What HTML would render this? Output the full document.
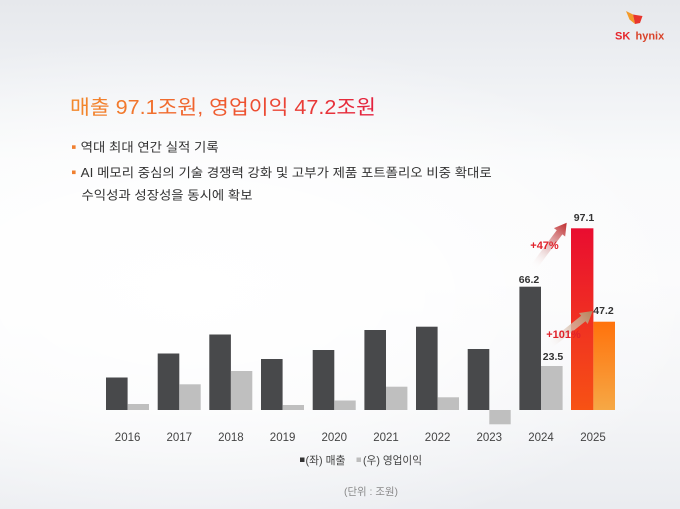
<!DOCTYPE html>
<html>
<head>
<meta charset="utf-8">
<style>
  html,body{margin:0;padding:0;}
  body{width:680px;height:509px;overflow:hidden;
    background:
      radial-gradient(ellipse 520px 260px at 28% 58%, rgba(255,255,255,1) 0%, rgba(255,255,255,0.7) 45%, rgba(255,255,255,0) 100%),
      linear-gradient(180deg,#e6e8ec 0%,#eff1f4 16%,#f9fafb 32%,#fbfbfc 55%,#f4f5f7 80%,#eaecf0 100%);}
  svg{display:block;}
  text{font-family:"Liberation Sans","Noto Sans CJK KR",sans-serif;}
</style>
</head>
<body>
<svg width="680" height="509" viewBox="0 0 680 509" xmlns="http://www.w3.org/2000/svg">
  <defs>
    <linearGradient id="tg" x1="70" y1="0" x2="376" y2="0" gradientUnits="userSpaceOnUse">
      <stop offset="0" stop-color="#f38a2c"/>
      <stop offset="0.5" stop-color="#ef5a2f"/>
      <stop offset="1" stop-color="#e4213f"/>
    </linearGradient>
    <linearGradient id="rev25" x1="0" y1="0" x2="0" y2="1">
      <stop offset="0" stop-color="#e90d30"/>
      <stop offset="1" stop-color="#f75214"/>
    </linearGradient>
    <linearGradient id="op25" x1="0" y1="0" x2="0" y2="1">
      <stop offset="0" stop-color="#ff720c"/>
      <stop offset="1" stop-color="#f6a845"/>
    </linearGradient>
    <linearGradient id="ar1" x1="533" y1="268" x2="566.7" y2="222.7" gradientUnits="userSpaceOnUse">
      <stop offset="0" stop-color="#ffffff" stop-opacity="0"/>
      <stop offset="0.35" stop-color="#e8cccc" stop-opacity="0.7"/>
      <stop offset="1" stop-color="#bf2a2c"/>
    </linearGradient>
    <linearGradient id="ar2" x1="548" y1="346.7" x2="592.7" y2="311" gradientUnits="userSpaceOnUse">
      <stop offset="0" stop-color="#ffffff" stop-opacity="0"/>
      <stop offset="0.35" stop-color="#e6d6cc" stop-opacity="0.7"/>
      <stop offset="1" stop-color="#b3845a"/>
    </linearGradient>
  </defs>

  <!-- Logo -->
  <polygon points="626,11 633,14.5 635,24 629.5,19.5" fill="#f39a2a"/>
  <polygon points="633,14.5 642.5,16 640,23 635,24" fill="#e8352d"/>
  <text x="615" y="39.5" font-size="11" font-weight="bold" fill="#e6262c">SK</text>
  <text x="635.5" y="39.5" font-size="11" font-weight="bold" fill="#d9432a">hynix</text>

  <!-- Title -->
  <text x="70" y="114" font-size="20" fill="url(#tg)" textLength="306" lengthAdjust="spacingAndGlyphs">매출 97.1조원, 영업이익 47.2조원</text>

  <!-- Bullets -->
  <rect x="72" y="145.3" width="3.6" height="3.6" fill="#f08030"/>
  <text x="80.7" y="151.6" font-size="12.5" fill="#333" textLength="138" lengthAdjust="spacingAndGlyphs">역대 최대 연간 실적 기록</text>
  <rect x="72" y="170.5" width="3.6" height="3.6" fill="#f08030"/>
  <text x="80.7" y="176.8" font-size="12.5" fill="#333" textLength="411" lengthAdjust="spacingAndGlyphs">AI 메모리 중심의 기술 경쟁력 강화 및 고부가 제품 포트폴리오 비중 확대로</text>
  <text x="81.5" y="199.6" font-size="12.5" fill="#333" textLength="171" lengthAdjust="spacingAndGlyphs">수익성과 성장성을 동시에 확보</text>

  <!-- Bars: revenue -->
  <g fill="#48494b">
    <rect x="106" y="377.5" width="21.6" height="32.5"/>
    <rect x="157.7" y="353.5" width="21.6" height="56.5"/>
    <rect x="209.3" y="334.5" width="21.6" height="75.5"/>
    <rect x="261" y="359" width="21.6" height="51"/>
    <rect x="312.7" y="350" width="21.6" height="60"/>
    <rect x="364.4" y="330" width="21.6" height="80"/>
    <rect x="416" y="326.7" width="21.6" height="83.3"/>
    <rect x="467.7" y="349" width="21.6" height="61"/>
    <rect x="519.4" y="286.7" width="21.6" height="123.3"/>
  </g>
  <rect x="571" y="228.3" width="22.4" height="181.7" fill="url(#rev25)"/>
  <!-- Bars: operating profit -->
  <g fill="#bfbfbf">
    <rect x="127.6" y="404" width="21.4" height="6"/>
    <rect x="179.3" y="384.3" width="21.4" height="25.7"/>
    <rect x="230.9" y="371" width="21.4" height="39"/>
    <rect x="282.6" y="405" width="21.4" height="5"/>
    <rect x="334.3" y="400.5" width="21.4" height="9.5"/>
    <rect x="386" y="386.7" width="21.4" height="23.3"/>
    <rect x="437.6" y="397.3" width="21.4" height="12.7"/>
    <rect x="489.3" y="410" width="21.4" height="14.3"/>
    <rect x="541" y="366" width="21.6" height="44"/>
  </g>
  <rect x="593.4" y="321.7" width="21.6" height="88.3" fill="url(#op25)"/>

  <!-- Arrows -->
  <polygon points="535.81,270.09 562.36,234.41 565.16,236.49 566.7,222.7 553.94,228.15 556.74,230.23 530.19,265.91" fill="url(#ar1)"/>
  <polygon points="550.18,349.43 585.51,321.22 587.70,323.96 592.7,311 578.96,313.02 581.15,315.76 545.82,343.97" fill="url(#ar2)"/>

  <!-- Value labels -->
  <g font-size="10.5" font-weight="bold" fill="#333" text-anchor="middle">
    <text x="584" y="221">97.1</text>
    <text x="529" y="283">66.2</text>
    <text x="553" y="360">23.5</text>
    <text x="603.5" y="314">47.2</text>
  </g>
  <text x="544.5" y="249" font-size="11" font-weight="bold" fill="#e0222b" text-anchor="middle">+47%</text>
  <text x="563.5" y="338" font-size="11" font-weight="bold" fill="#e0222b" text-anchor="middle">+101%</text>

  <!-- Year labels -->
  <g font-size="11.5" fill="#444" text-anchor="middle">
    <text x="127.6" y="441">2016</text>
    <text x="179.3" y="441">2017</text>
    <text x="230.9" y="441">2018</text>
    <text x="282.6" y="441">2019</text>
    <text x="334.3" y="441">2020</text>
    <text x="386" y="441">2021</text>
    <text x="437.6" y="441">2022</text>
    <text x="489.3" y="441">2023</text>
    <text x="541" y="441">2024</text>
    <text x="593" y="441">2025</text>
  </g>

  <!-- Legend -->
  <rect x="300" y="457.5" width="4.5" height="4.5" fill="#333"/>
  <text x="305.5" y="464" font-size="11" fill="#444" textLength="40" lengthAdjust="spacingAndGlyphs">(좌) 매출</text>
  <rect x="356.5" y="457.5" width="4.5" height="4.5" fill="#bdbdbd"/>
  <text x="363" y="464" font-size="11" fill="#444" textLength="59" lengthAdjust="spacingAndGlyphs">(우) 영업이익</text>

  <!-- Unit -->
  <text x="344" y="495" font-size="10.5" fill="#8a8a8a" textLength="54" lengthAdjust="spacingAndGlyphs">(단위 : 조원)</text>
</svg>
</body>
</html>
